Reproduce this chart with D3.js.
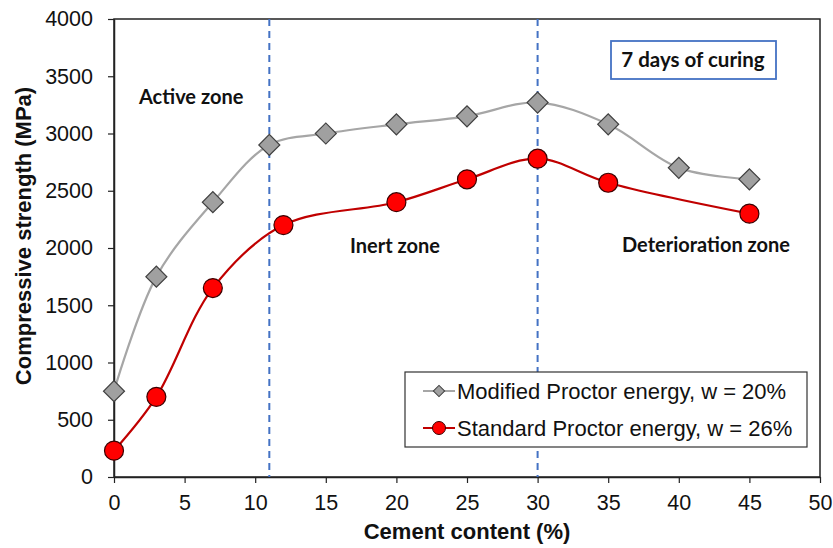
<!DOCTYPE html>
<html lang="en">
<head>
<meta charset="UTF-8">
<title>Compressive strength vs cement content</title>
<script src="https://cdnjs.cloudflare.com/ajax/libs/d3/7.8.5/d3.min.js"></script>
<style>
  body { margin: 0; background: #fff; }
  svg text { font-family: "Liberation Sans", Arial, sans-serif; fill: #111; }
  svg text.zone { font-family: Lato, "Open Sans", sans-serif; font-weight: bold; }
</style>
</head>
<body>
<div id="chart"></div>
<script>
// data
var modX = [0, 3, 7, 11, 15, 20, 25, 30, 35, 40, 45];
var modY = [750, 1750, 2400, 2900, 3000, 3080, 3150, 3270, 3080, 2700, 2600];
var stdX = [0, 3, 7, 12, 20, 25, 30, 35, 45];
var stdY = [230, 700, 1650, 2200, 2400, 2600, 2780, 2570, 2300];
var zoneLines = [11, 30];
var xTicks = [0, 5, 10, 15, 20, 25, 30, 35, 40, 45, 50];
var yTicks = [0, 500, 1000, 1500, 2000, 2500, 3000, 3500, 4000];
var seriesNames = ["Modified Proctor energy, w = 20%", "Standard Proctor energy, w = 26%"];

var W = 833, H = 548;
var margin = {top: 19, right: 13, bottom: 71, left: 114};
var w = W - margin.left - margin.right;
var h = H - margin.top - margin.bottom;

var svg = d3.select("#chart").append("svg")
    .attr("width", W).attr("height", H);
var g = svg.append("g").attr("transform", "translate(" + margin.left + "," + margin.top + ")");

var x = d3.scaleLinear().domain([0, 50]).range([0, w]);
var y = d3.scaleLinear().domain([0, 4000]).range([h, 0]);

// plot frame
g.append("rect").attr("width", w).attr("height", h)
    .attr("fill", "none").attr("stroke", "#222").attr("stroke-width", 1.5);

// axes
var xAxis = g.append("g").attr("transform", "translate(0," + h + ")")
    .call(d3.axisBottom(x).tickValues(xTicks).tickFormat(d3.format("d"))
        .tickSize(6).tickPadding(12).tickSizeOuter(0));
var yAxis = g.append("g")
    .call(d3.axisLeft(y).tickValues(yTicks).tickFormat(d3.format("d"))
        .tickSize(6).tickPadding(15).tickSizeOuter(0));
[xAxis, yAxis].forEach(function (a) {
    a.select(".domain").attr("stroke", "#222").attr("stroke-width", 1.5);
    a.selectAll(".tick line").attr("stroke", "#222").attr("stroke-width", 1.2);
    a.selectAll(".tick text").attr("font-size", "21.5px").attr("fill", "#111");
});

// zone dividers
g.selectAll(".zoneline").data(zoneLines).enter().append("line")
    .attr("x1", function (d) { return x(d); }).attr("x2", function (d) { return x(d); })
    .attr("y1", 0).attr("y2", h)
    .attr("stroke", "#4472C4").attr("stroke-width", 2).attr("stroke-dasharray", "7,5");

// curves
var line = d3.line().curve(d3.curveCatmullRom.alpha(0.5))
    .x(function (d) { return x(d[0]); }).y(function (d) { return y(d[1]); });
var modPts = d3.zip(modX, modY);
var stdPts = d3.zip(stdX, stdY);

g.append("path").datum(modPts).attr("d", line)
    .attr("fill", "none").attr("stroke", "#A6A6A6").attr("stroke-width", 2.2);
g.append("path").datum(stdPts).attr("d", line)
    .attr("fill", "none").attr("stroke", "#C00000").attr("stroke-width", 2.2);

var diamond = d3.symbol().type(d3.symbolSquare).size(220);
g.selectAll(".mod").data(modPts).enter().append("path")
    .attr("d", diamond)
    .attr("transform", function (d) { return "translate(" + x(d[0]) + "," + y(d[1]) + ") rotate(45)"; })
    .attr("fill", "#A0A0A0").attr("stroke", "#404040").attr("stroke-width", 1.2);

g.selectAll(".std").data(stdPts).enter().append("circle")
    .attr("cx", function (d) { return x(d[0]); }).attr("cy", function (d) { return y(d[1]); })
    .attr("r", 9.5).attr("fill", "#FF0000").attr("stroke", "#3a0000").attr("stroke-width", 1.2);

// zone labels
svg.append("text").attr("class", "zone").attr("x", 139).attr("y", 104).attr("font-size", "20px").text("Active zone");
svg.append("text").attr("class", "zone").attr("x", 350).attr("y", 253).attr("font-size", "20px").text("Inert zone");
svg.append("text").attr("class", "zone").attr("x", 622).attr("y", 252).attr("font-size", "20px").text("Deterioration zone");

// curing box
svg.append("rect").attr("x", 611).attr("y", 41).attr("width", 165).attr("height", 38)
    .attr("fill", "#fff").attr("stroke", "#4472C4").attr("stroke-width", 1.8);
svg.append("text").attr("class", "zone").attr("x", 693).attr("y", 67)
    .attr("text-anchor", "middle").attr("font-size", "20.5px").text("7 days of curing");

// legend
var lg = svg.append("g");
lg.append("rect").attr("x", 405).attr("y", 372).attr("width", 402).attr("height", 75)
    .attr("fill", "#fff").attr("stroke", "#333").attr("stroke-width", 1.2);
var ly = [391, 428];
lg.append("line").attr("x1", 423).attr("x2", 455).attr("y1", ly[0]).attr("y2", ly[0])
    .attr("stroke", "#A6A6A6").attr("stroke-width", 2);
lg.append("path").attr("d", d3.symbol().type(d3.symbolSquare).size(64))
    .attr("transform", "translate(439," + ly[0] + ") rotate(45)")
    .attr("fill", "#A0A0A0").attr("stroke", "#404040").attr("stroke-width", 1);
lg.append("line").attr("x1", 423).attr("x2", 455).attr("y1", ly[1]).attr("y2", ly[1])
    .attr("stroke", "#C00000").attr("stroke-width", 2);
lg.append("circle").attr("cx", 439).attr("cy", ly[1]).attr("r", 6.5)
    .attr("fill", "#FF0000").attr("stroke", "#3a0000").attr("stroke-width", 1);
lg.selectAll(".lt").data(seriesNames).enter().append("text")
    .attr("x", 457).attr("y", function (d, i) { return ly[i] + 8; })
    .attr("font-size", "22px").text(function (d) { return d; });

// axis titles
svg.append("text").attr("x", margin.left + x(25)).attr("y", 539)
    .attr("text-anchor", "middle").attr("font-size", "22px").attr("font-weight", "bold")
    .text("Cement content (%)");
svg.append("text").attr("transform", "translate(31,236) rotate(-90)")
    .attr("text-anchor", "middle").attr("font-size", "22px").attr("font-weight", "bold")
    .text("Compressive strength (MPa)");
</script>
</body>
</html>
